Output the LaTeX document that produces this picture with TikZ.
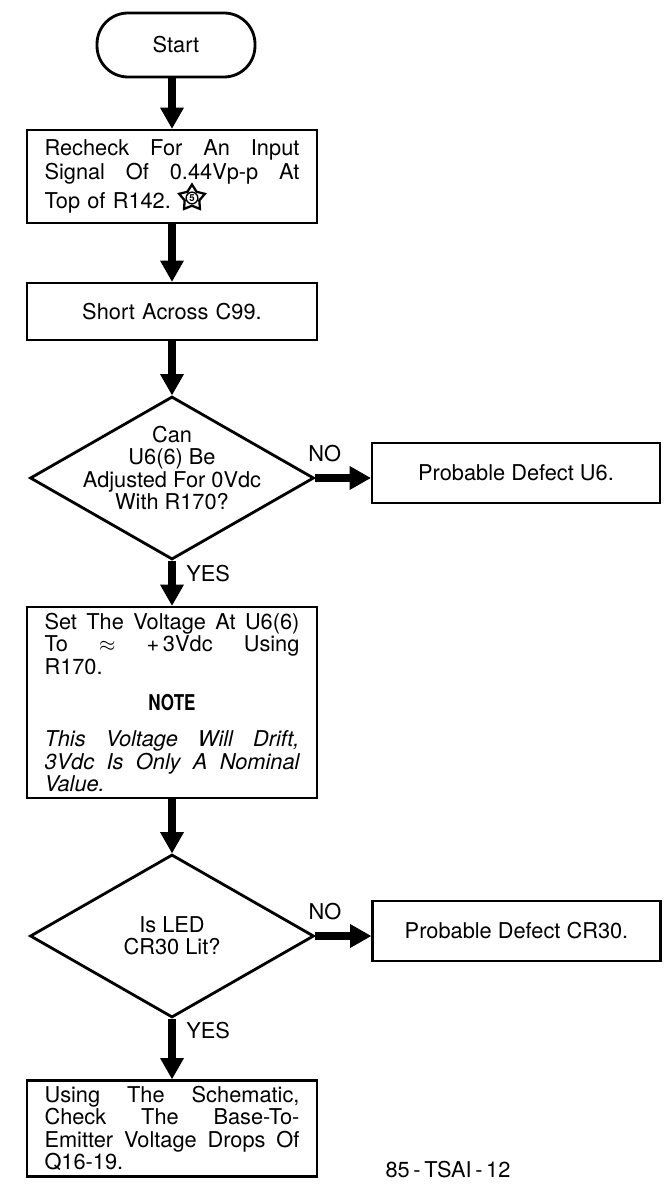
\documentclass[tikz,border=0pt]{standalone}
\usepackage{fontspec}
\setmainfont{TeX Gyre Heros}
\usetikzlibrary{arrows.meta,shapes.geometric,positioning}

\newlength{\topwd}

\begin{document}
\settowidth{\topwd}{\fontsize{12.4pt}{12.7pt}\selectfont Top of R142.}
\begin{tikzpicture}[x=0.02cm,y=-0.02cm,
    font=\fontsize{12.4pt}{12.7pt}\selectfont,
    stepbox/.style={draw,line width=1.6pt,text width=5.1cm,align=left,minimum width=5.8cm},
    endbox/.style={draw,line width=1.6pt,minimum width=5.76cm,minimum height=1.2cm},
    decision/.style={diamond,draw,line width=1.6pt,aspect=1.75,minimum width=5.68cm,minimum height=3.26cm,inner sep=0pt},
    flow/.style={line width=0.17cm,-{Triangle[length=0.42cm,width=0.48cm,line width=0pt]}},
    lbl/.style={inner sep=1pt}]
    \useasboundingbox (0,0) rectangle (671,1185);

    \node [draw,line width=1.6pt,rounded corners=0.62cm,minimum width=3.16cm,minimum height=1.28cm] (start) at (176,45) {Start};

    \node [stepbox,minimum height=1.86cm] (recheck) at (172,176.5)
        {Recheck\hfill For\hfill An\hfill Input\\[1pt]Signal\hfill Of\hfill 0.44Vp-p\hfill At\\[4pt]Top of R142.};
    % star mark just behind the last line
    \node [star,star points=5,star point ratio=1.75,draw,line width=1.3pt,minimum size=0.54cm,inner sep=0pt] (mark) at ([xshift=\topwd]68,198) {};
    \node [circle,draw,line width=0.8pt,inner sep=0.6pt,font=\fontsize{5.5pt}{5.5pt}\selectfont\bfseries] (markno) at (mark.center) {5};

    \node [stepbox,minimum height=1.14cm,align=center] (short) at (172,311.5) {Short Across C99.};

    \node [decision] (q1) at (172,478) {};
    \node [align=center] (q1txt) at (172,468) {Can\\U6(6) Be\\Adjusted For 0Vdc\\With R170?};
    \node [endbox] (u6) at (516,473) {Probable Defect U6.};

    \node [stepbox,minimum height=3.82cm] (setv) at (172,702.5)
        {Set\hfill The\hfill Voltage\hfill At\hfill U6(6)\\To\hfill $\approx$\hfill +\,3Vdc\hfill Using\\R170.\\[0.28cm]
         \makebox[\linewidth]{\scalebox{0.78}[1]{\bfseries NOTE}}\\[0.28cm]
         {\itshape This\hfill Voltage\hfill Will\hfill Drift,\\3Vdc\hfill Is\hfill Only\hfill A\hfill Nominal\\Value.}};

    \node [decision] (q2) at (172,936) {};
    \node [align=center] (q2txt) at (172,936) {Is LED\\CR30 Lit?};
    \node [endbox] (cr30) at (516.5,931) {Probable Defect CR30.};

    \node [stepbox,minimum height=1.74cm] (using) at (172,1128.5)
        {Using\hfill The\hfill Schematic,\\Check\hfill The\hfill Base-To-\\Emitter\hfill Voltage\hfill Drops\hfill Of\\Q16-19.};

    \node (figno) at (448,1170) {85\,-\,TSAI\,-\,12};

    \draw [flow] (recheck.north |- start.south) -- (recheck.north);
    \draw [flow] (recheck.south) -- (short.north);
    \draw [flow] (short.south) -- (q1.north);
    \draw [flow] (q1.east) -- node [lbl,above=0.2cm,pos=0.17] (no1) {NO} (q1.east -| u6.west);
    \draw [flow] (q1.south) -- node [lbl,right=0.165cm,pos=0.28] (yes1) {YES} (setv.north);
    \draw [flow] (setv.south) -- (q2.north);
    \draw [flow] (q2.east) -- node [lbl,above=0.2cm,pos=0.17] (no2) {NO} (q2.east -| cr30.west);
    \draw [flow] (q2.south) -- node [lbl,right=0.165cm,pos=0.2] (yes2) {YES} (using.north);
\end{tikzpicture}
\end{document}
